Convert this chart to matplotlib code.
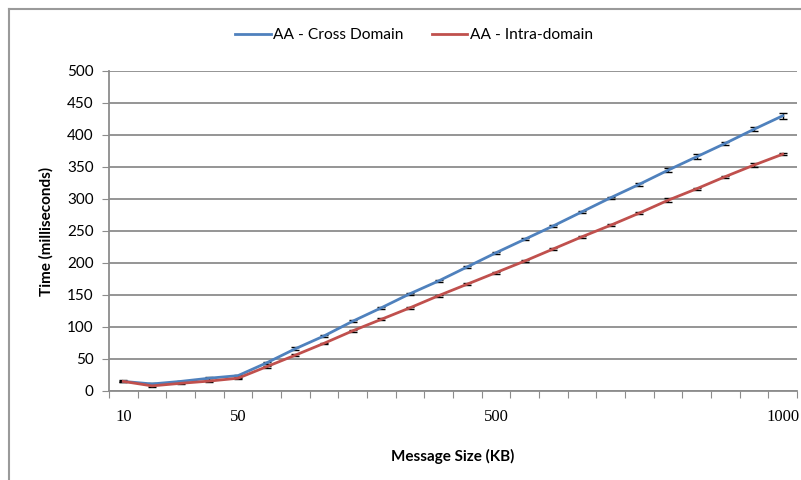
import matplotlib
matplotlib.use("Agg")
import matplotlib.pyplot as plt
from matplotlib.lines import Line2D
import numpy as np

sizes = [10, 20, 30, 40, 50, 100, 150, 200, 250, 300, 350, 400, 450, 500,
         550, 600, 650, 700, 750, 800, 850, 900, 950, 1000]
shown_labels = {10: "10", 50: "50", 500: "500", 1000: "1000"}

cross = [15, 11, 15, 20, 24, 44, 66, 86, 109, 130, 152, 172, 194, 216,
         237, 258, 280, 302, 323, 345, 366, 387, 409, 430]
cross_err = [1.5, 1, 1, 2.5, 1.5, 2, 2, 1.5, 1.5, 2, 1.5, 1.5, 1.5, 1.5,
             1.5, 1.5, 1.5, 1.5, 2.5, 3, 4, 2, 3, 5]
intra = [15, 8, 12, 15.5, 20, 38, 56, 74.5, 94, 112, 130, 149, 167, 185,
         203, 222, 241, 259, 278, 298, 316, 335, 353, 370]
intra_err = [1, 1, 1, 1, 1, 1.5, 1.5, 1, 1.5, 1.5, 1.5, 1.5, 1.5, 1.5,
             1.5, 1.5, 1.5, 1.5, 1.5, 3, 1.5, 1.5, 2.5, 1.5]

blue = "#4F81BD"
red = "#C0504D"
grid_c = "#8C8C8C"
sans = "Lato"

fig = plt.figure(figsize=(8.01, 4.80), dpi=100)
ax = fig.add_axes([109/801, (480-391)/480, (797-109)/801, (391-71)/480])

x = np.arange(len(sizes))
ax.errorbar(x, cross, yerr=cross_err, color=blue, lw=2, ecolor="black",
            elinewidth=1, capsize=3, capthick=1, label="AA - Cross Domain", zorder=3)
ax.errorbar(x, intra, yerr=intra_err, color=red, lw=2, ecolor="black",
            elinewidth=1, capsize=3, capthick=1, label="AA - Intra-domain", zorder=3)

ax.set_xlim(-0.5, len(sizes) - 0.5)
ax.set_ylim(0, 500)
ax.set_yticks(np.arange(0, 501, 50))
ax.yaxis.grid(True, color=grid_c, lw=1.3)
ax.set_axisbelow(True)
for lab in ax.get_yticklabels():
    lab.set_family(sans)
ax.tick_params(axis="y", labelsize=11, length=5, color=grid_c, direction="out", pad=6)

ax.set_xticks(np.arange(-0.5, len(sizes), 1.0))
ax.set_xticklabels([])
ax.set_xticks(x, minor=True)
ax.set_xticklabels([shown_labels.get(s, "") for s in sizes], minor=True,
                   family="Liberation Serif", fontsize=12)
ax.tick_params(axis="x", which="major", length=5, color=grid_c, direction="out")
ax.tick_params(axis="x", which="minor", length=0, pad=13)

for s in ["top", "right"]:
    ax.spines[s].set_visible(False)
for s in ["left", "bottom"]:
    ax.spines[s].set_color(grid_c)
    ax.spines[s].set_linewidth(1.3)

ax.set_ylabel("Time (milliseconds)", fontsize=11, fontweight="bold",
              family=sans, labelpad=10)
ax.set_xlabel("Message Size (KB)", fontsize=11, fontweight="bold",
              family=sans, labelpad=17)

handles = [Line2D([], [], color=blue, lw=2), Line2D([], [], color=red, lw=2)]
fig.legend(handles, ["AA - Cross Domain", "AA - Intra-domain"], loc="center",
           bbox_to_anchor=(414/801, 1 - 35/480), ncol=2, frameon=False,
           prop={"family": sans, "size": 11.2}, handlelength=2.3,
           handletextpad=0.15, columnspacing=1.8)

fig.add_artist(Line2D([9/801, 9/801], [0, 1 - 9/480], transform=fig.transFigure,
                      color="#9A9A9A", lw=1.5))
fig.add_artist(Line2D([9/801, 1], [1 - 9/480, 1 - 9/480], transform=fig.transFigure,
                      color="#9A9A9A", lw=1.5))

fig.savefig("out.png", dpi=100)
